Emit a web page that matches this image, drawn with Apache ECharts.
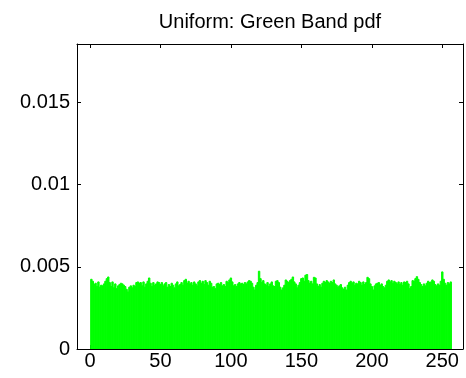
<!DOCTYPE html>
<html>
<head>
<meta charset="utf-8">
<script src="https://cdn.jsdelivr.net/npm/echarts@6/dist/echarts.min.js"></script>
<style>
  html, body { margin: 0; padding: 0; background: #fff; }
  #chart { width: 466px; height: 378px; }
</style>
</head>
<body>
<div id="chart"></div>
<script>
// histogram of the green band, one value per bin (bin centres 1..256)
const pdfValues = [
  0.00424, 0.00412, 0.00392, 0.00400, 0.00380, 0.00408, 0.00376, 0.00388, 0.00384, 0.00396,
  0.00412, 0.00428, 0.00438, 0.00404, 0.00380, 0.00408, 0.00372, 0.00396, 0.00367, 0.00384,
  0.00392, 0.00400, 0.00396, 0.00388, 0.00380, 0.00363, 0.00347, 0.00376, 0.00384, 0.00372,
  0.00388, 0.00380, 0.00404, 0.00408, 0.00400, 0.00404, 0.00384, 0.00408, 0.00376, 0.00396,
  0.00412, 0.00432, 0.00400, 0.00380, 0.00404, 0.00388, 0.00396, 0.00408, 0.00404, 0.00392,
  0.00404, 0.00384, 0.00396, 0.00404, 0.00376, 0.00392, 0.00380, 0.00400, 0.00388, 0.00372,
  0.00396, 0.00408, 0.00384, 0.00392, 0.00404, 0.00388, 0.00416, 0.00424, 0.00400, 0.00412,
  0.00396, 0.00404, 0.00388, 0.00408, 0.00396, 0.00384, 0.00408, 0.00416, 0.00400, 0.00412,
  0.00392, 0.00416, 0.00404, 0.00388, 0.00412, 0.00400, 0.00376, 0.00380, 0.00367, 0.00396,
  0.00400, 0.00392, 0.00404, 0.00384, 0.00392, 0.00380, 0.00412, 0.00404, 0.00420, 0.00432,
  0.00408, 0.00384, 0.00392, 0.00380, 0.00396, 0.00404, 0.00396, 0.00400, 0.00392, 0.00404,
  0.00396, 0.00408, 0.00416, 0.00412, 0.00400, 0.00376, 0.00359, 0.00388, 0.00404, 0.00473,
  0.00428, 0.00404, 0.00416, 0.00396, 0.00388, 0.00404, 0.00380, 0.00396, 0.00408, 0.00384,
  0.00380, 0.00412, 0.00416, 0.00404, 0.00376, 0.00359, 0.00372, 0.00388, 0.00420, 0.00412,
  0.00404, 0.00416, 0.00424, 0.00438, 0.00408, 0.00396, 0.00372, 0.00388, 0.00404, 0.00428,
  0.00432, 0.00412, 0.00449, 0.00453, 0.00416, 0.00400, 0.00412, 0.00396, 0.00436, 0.00432,
  0.00396, 0.00380, 0.00392, 0.00376, 0.00400, 0.00412, 0.00404, 0.00416, 0.00408, 0.00400,
  0.00412, 0.00404, 0.00420, 0.00396, 0.00388, 0.00376, 0.00384, 0.00392, 0.00372, 0.00363,
  0.00376, 0.00359, 0.00388, 0.00404, 0.00412, 0.00400, 0.00408, 0.00388, 0.00400, 0.00396,
  0.00412, 0.00404, 0.00388, 0.00408, 0.00392, 0.00404, 0.00436, 0.00428, 0.00396, 0.00380,
  0.00359, 0.00384, 0.00396, 0.00400, 0.00404, 0.00388, 0.00396, 0.00380, 0.00372, 0.00388,
  0.00412, 0.00420, 0.00408, 0.00416, 0.00400, 0.00412, 0.00404, 0.00396, 0.00408, 0.00392,
  0.00404, 0.00388, 0.00408, 0.00404, 0.00412, 0.00396, 0.00367, 0.00380, 0.00416, 0.00412,
  0.00428, 0.00440, 0.00424, 0.00404, 0.00392, 0.00380, 0.00396, 0.00384, 0.00400, 0.00412,
  0.00404, 0.00408, 0.00420, 0.00412, 0.00392, 0.00384, 0.00396, 0.00388, 0.00412, 0.00469,
  0.00424, 0.00400, 0.00388, 0.00404, 0.00396, 0.00408
];
const xTicks = [0, 50, 100, 150, 200, 250];
const yTicks = [0, 0.005, 0.01, 0.015];
const titleText = "Uniform: Green Band pdf";

let binData = [];
for (let i = 0; i < pdfValues.length; i++) {
  binData.push([i + 1, pdfValues[i]]);
}

let mycharts = echarts.init(document.getElementById("chart"));

const axisFont = {
  fontFamily: "Liberation Sans",
  fontSize: 20,
  color: "#000",
};
// matlab style box: black lines, ticks pointing inwards on all 4 sides
// onZero must be off or the value axes jump to x=0 / y=0
const boxLine = { show: true, onZero: false, lineStyle: { color: "#000", width: 1 } };
const inTick = { show: true, inside: true, length: 4, lineStyle: { color: "#000" } };

mycharts.setOption({
  animation: false,
  grid: {
    left: 77,
    right: 3,
    top: 44,
    bottom: 29,
  },
  graphic: [
    {
      type: "text",
      x: 270,
      y: 22,
      style: {
        text: titleText,
        fontFamily: "Liberation Sans",
        fontSize: 20,
        fill: "#000",
        textAlign: "center",
        textVerticalAlign: "middle",
      },
    },
  ],
  xAxis: [
    {
      type: "value",
      position: "bottom",
      min: -9.2,
      max: 264.7,
      axisLine: boxLine,
      axisTick: Object.assign({}, inTick, { customValues: xTicks }),
      axisLabel: Object.assign({}, axisFont, { margin: 2, customValues: xTicks }),
      splitLine: { show: false },
    },
    {
      type: "value",
      position: "top",
      min: -9.2,
      max: 264.7,
      axisLine: boxLine,
      axisTick: Object.assign({}, inTick, { customValues: xTicks }),
      axisLabel: { show: false },
      splitLine: { show: false },
    },
  ],
  yAxis: [
    {
      type: "value",
      position: "left",
      min: 0,
      max: 0.01855,
      axisLine: boxLine,
      axisTick: Object.assign({}, inTick, { customValues: yTicks }),
      axisLabel: Object.assign({}, axisFont, {
        margin: 7,
        customValues: yTicks,
        formatter: (v) => String(+v.toFixed(4)),
      }),
      splitLine: { show: false },
    },
    {
      type: "value",
      position: "right",
      min: 0,
      max: 0.01855,
      axisLine: boxLine,
      axisTick: Object.assign({}, inTick, { customValues: yTicks }),
      axisLabel: { show: false },
      splitLine: { show: false },
    },
  ],
  series: [
    {
      name: "pdf",
      type: "custom",
      xAxisIndex: 0,
      yAxisIndex: 0,
      clip: true,
      data: binData,
      renderItem: function (params, api) {
        const x = api.value(0);
        const v = api.value(1);
        const p0 = api.coord([x - 0.5, v]);
        const p1 = api.coord([x + 0.5, 0]);
        return {
          type: "rect",
          shape: { x: p0[0], y: p0[1], width: p1[0] - p0[0], height: p1[1] - p0[1] },
          style: { fill: "#00ff00", stroke: "#00ff00", lineWidth: 1 },
        };
      },
      z: 1,
    },
  ],
});
</script>
</body>
</html>
